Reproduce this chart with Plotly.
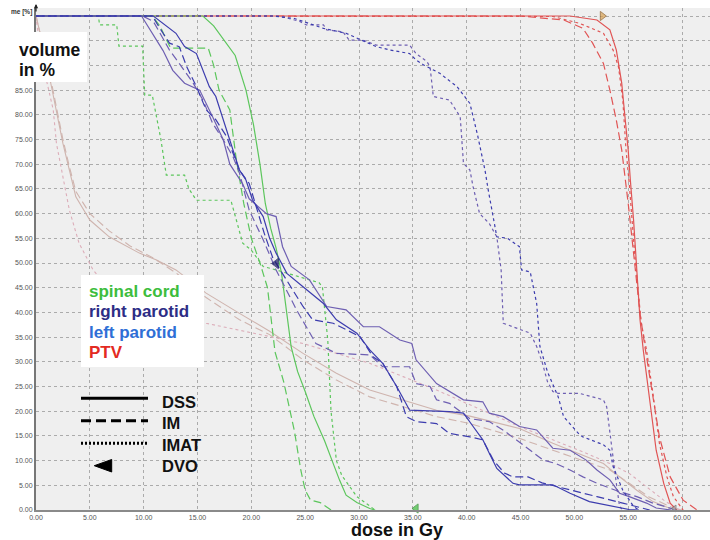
import plotly.graph_objects as go

# ---------------- data (dose in Gy, volume in %) ----------------
x_tick_vals = [0, 5, 10, 15, 20, 25, 30, 35, 40, 45, 50, 55, 60]
y_tick_vals = [0, 5, 10, 15, 20, 25, 30, 35, 40, 45, 50, 55, 60, 65, 70, 75, 80, 85, 90, 95, 100]

# spinal cord
cord_dss_dose = [0, 15.5, 16.5, 17.5, 18.5, 19.5, 20.2, 20.8, 21.3, 21.8, 22.3, 22.8, 23.3, 23.7, 24.3, 25.0, 25.8, 26.8, 27.5, 28.2, 28.8, 29.8, 31.0, 31.5]
cord_dss_vol = [100, 100, 98, 95, 92, 85, 78, 70, 62, 57, 53, 48, 40, 33, 28, 24, 19, 14, 10, 6, 3, 1.5, 0.3, 0]
cord_im_dose = [0, 10.8, 11.5, 12.2, 12.5, 16.0, 16.5, 17.0, 18.0, 18.6, 19.3, 20.0, 20.8, 21.5, 22.2, 23.0, 24.0, 24.6, 25.0, 25.5, 26.4, 27.4]
cord_im_vol = [100, 100, 98, 95, 93.5, 93.5, 90, 85, 81, 71, 62, 55, 50, 45, 32, 26, 16, 8, 4, 2, 1.5, 0]
cord_imat_dose = [0, 5.8, 5.9, 7.5, 7.7, 9.9, 10.1, 10.8, 11.6, 12.1, 13.8, 14.2, 14.9, 18.1, 19.2, 20.0, 21.1, 22.3, 26.3, 26.6, 27.1, 27.4, 27.9, 28.4, 29.8, 31.0, 31.5]
cord_imat_vol = [100, 100, 98.2, 98.2, 93.9, 93.9, 84, 84, 75, 67.8, 67.8, 65, 62.7, 62.7, 54, 52.6, 49.3, 48.6, 46, 45.2, 34.4, 20, 10, 7, 2.7, 0.7, 0]

# right parotid
rpar_dss_dose = [0, 9.8, 11.8, 12.7, 13.8, 15.2, 16.4, 17.4, 18.0, 19.2, 19.8, 21.4, 22.3, 22.9, 23.7, 25.4, 27.0, 28.8, 30.4, 31.9, 33.8, 34.9, 35.3, 37.2, 39.7, 41.5, 42.1, 43.4, 44.9, 46.5, 48.0, 49.6, 51.1, 52.1, 53.3, 54.2, 55.1, 56.7, 57.6, 59.0]
rpar_dss_vol = [100, 100, 93, 89, 86.4, 85, 79.6, 74.9, 70, 66, 63, 60, 59.4, 53.3, 49.3, 46.6, 41.2, 40.5, 37.1, 37.1, 34.4, 33.7, 30.4, 25.6, 22.3, 21.9, 19.6, 18.9, 16.9, 16.2, 12.5, 12.1, 10.1, 8.1, 6.1, 3.4, 2.7, 1.4, 0.4, 0]
rpar_im_dose = [0, 9.9, 10.9, 11.5, 12.4, 13.3, 14.6, 15.5, 16.4, 17.4, 18.3, 18.9, 19.8, 21.1, 22.3, 23.1, 24.2, 25.1, 26.0, 26.7, 27.9, 31.0, 32.2, 34.7, 35.3, 36.6, 37.2, 38.4, 39.7, 40.3, 42.1, 43.5, 45.9, 47.1, 48.3, 49.6, 50.8, 52.1, 54.2, 55.8, 57.3, 58.9, 59.5]
rpar_im_vol = [100, 100, 98.9, 96.5, 93.1, 90.4, 86.4, 83, 78.3, 74.9, 71.5, 68.2, 60.7, 54.7, 48.6, 45.2, 40.5, 37.1, 33.7, 33, 31.7, 31.4, 29, 29, 25.6, 25, 22.3, 21.6, 19.6, 18.5, 17.9, 16, 12.1, 10.1, 9.4, 8.1, 6.7, 5.4, 3.7, 2.7, 1.4, 0.3, 0]
rpar_imat_dose = [0, 22.6, 24.5, 25.1, 26.7, 27.0, 28.5, 29.1, 30.4, 31.6, 34.7, 35.3, 36.3, 36.6, 36.9, 38.4, 39.4, 39.7, 40.3, 40.6, 41.2, 42.1, 42.8, 43.2, 43.4, 44.3, 45.9, 46.5, 47.0, 47.5, 48.0, 48.5, 50.5, 52.7, 53.0, 53.9, 54.2, 54.5]
rpar_imat_vol = [100, 100, 98.9, 98.2, 98.2, 97.2, 96.8, 95.1, 95.1, 94.1, 94.1, 92.4, 90.8, 89.7, 83.7, 83, 79.6, 70.2, 68.8, 65.4, 60, 58, 55.3, 48.6, 37.8, 37.1, 35.8, 33.1, 30, 26, 24, 23.6, 23.6, 22.3, 20.9, 5.4, 0.7, 0]

# left parotid
lpar_dss_dose = [0, 10.9, 13.0, 13.8, 14.9, 15.4, 16.1, 16.7, 17.7, 18.3, 18.9, 19.5, 20.1, 21.1, 21.7, 22.3, 23.3, 24.8, 26.7, 27.9, 29.8, 31.0, 32.2, 33.5, 34.7, 38.4, 39.7, 40.6, 41.5, 42.1, 42.8, 44.3, 44.9, 48.0, 49.6, 51.4, 53.9, 55.1, 56.0]
lpar_dss_vol = [100, 100, 96.5, 93.8, 92.4, 89.7, 85.7, 83.7, 76.9, 72.9, 68.8, 66.8, 62.8, 59.4, 55, 52, 47.9, 45.2, 41.8, 38.5, 35.8, 32.4, 29.7, 25, 20.2, 19.9, 19.6, 16.9, 14.2, 11.5, 8.4, 5.4, 5.1, 5.1, 3.4, 1.7, 0.7, 0.1, 0]
lpar_im_dose = [0, 10.8, 11.8, 12.4, 13.3, 14.0, 14.9, 15.8, 16.7, 17.7, 18.3, 18.9, 19.8, 20.5, 21.2, 22.0, 22.9, 24.8, 25.7, 27.6, 30.1, 31.3, 32.2, 33.5, 34.4, 35.3, 37.2, 38.4, 40.3, 41.5, 42.5, 43.5, 44.3, 45.7, 47.0, 49.6, 52.1, 54.5, 56.4, 57.0]
lpar_im_vol = [100, 100, 96.5, 94.5, 93.8, 89.7, 85.7, 81, 79, 75.6, 72.2, 68.8, 66.1, 61, 56, 51, 47.9, 41.2, 38.5, 37.8, 35.1, 31, 29.7, 25, 18.9, 17.9, 17.5, 15.5, 14.8, 14.2, 10, 7.5, 6.7, 6.7, 5.5, 4, 2.7, 1.4, 0.4, 0]
lpar_imat_dose = [0, 22.0, 24.0, 26.7, 28.8, 29.8, 31.6, 32.9, 34.7, 35.3, 36.0, 37.5, 39.1, 40.3, 41.0, 41.7, 42.0, 42.8, 43.8, 44.9, 45.1, 45.9, 46.5, 46.8, 47.5, 48.5, 49.0, 50.5, 50.8, 52.7, 53.3, 53.6, 54.5, 55.5, 56.0]
lpar_imat_vol = [100, 100, 99.5, 97.5, 96.5, 95.5, 93.8, 93.1, 92.4, 91.1, 90.1, 88.4, 85.7, 82.3, 76, 68.8, 64.8, 55.3, 55, 53.3, 48.6, 48.2, 41.8, 33.1, 28, 22.9, 18.9, 15.2, 14.8, 13.2, 12.1, 8.8, 4, 0.7, 0]

# PTV
ptv_dss_dose = [0, 49.6, 52.1, 53.3, 53.9, 54.4, 54.7, 55.0, 55.2, 55.5, 55.8, 56.1, 56.4, 57.0, 57.6, 58.3, 58.9, 59.5]
ptv_dss_vol = [100, 100, 99.2, 97.2, 93.1, 86.4, 79.6, 72.9, 66.8, 58.7, 48.6, 38.5, 32.4, 22.3, 12.1, 5.4, 1.4, 0]
ptv_im_dose = [0, 44.9, 49.0, 50.8, 51.7, 52.7, 53.3, 53.9, 54.4, 54.7, 55.0, 55.5, 56.1, 56.6, 57.2, 57.9, 58.9, 60.1, 61.4]
ptv_im_vol = [100, 100, 99.2, 97.5, 94.5, 90.4, 85, 78.9, 72.9, 66.8, 62.1, 52, 39.8, 32.4, 24.3, 14.8, 6.7, 2, 0]
ptv_imat_dose = [0, 48.0, 50.5, 52.7, 53.6, 54.1, 54.5, 54.8, 55.1, 55.6, 56.2, 56.7, 57.3, 57.9, 58.6, 59.2, 60.1]
ptv_imat_vol = [100, 99.9, 98.5, 96.5, 93.1, 89.7, 83, 72.9, 66, 52, 38, 32.4, 23.6, 13.5, 6.7, 2.7, 0]

# other tissue (unlabelled light curves)
tis_dss_dose = [0, 0.6, 1.25, 1.9, 2.5, 3.1, 3.7, 5.0, 6.8, 9.6, 11.2, 13.0, 15.8, 18.9, 21.7, 24.8, 27.9, 31.0, 34.1, 37.2, 40.3, 44.9, 48.0, 51.1, 52.7, 54.2, 55.8, 57.3, 58.9, 60.1]
tis_dss_vol = [100, 94.5, 87.7, 81, 74.2, 68.8, 63.4, 58.7, 55.3, 52, 50.6, 48.6, 43.9, 39.8, 36.2, 31.7, 27.7, 24.3, 22.3, 20.2, 19, 16.5, 13.5, 10.8, 9.4, 6.7, 4, 1.7, 0.3, 0]
tis_im_dose = [0, 0.6, 1.3, 1.9, 2.5, 3.1, 3.7, 5.0, 6.8, 8.7, 10.9, 13.0, 15.8, 18.9, 21.7, 24.8, 27.9, 31.0, 34.1, 37.2, 40.3, 44.9, 48.0, 51.1, 53.3, 55.1, 56.9, 58.9, 59.5]
tis_im_vol = [100, 94.5, 88, 81.5, 75, 69.5, 64.5, 60, 56.5, 53.5, 51, 48, 43, 38.5, 35.5, 30.4, 26.3, 22.9, 20.9, 18.9, 17.5, 14.5, 12.1, 9.8, 8.1, 5.4, 2.7, 0.7, 0]
tis_imat_dose = [0, 0.3, 0.9, 1.6, 1.9, 2.5, 3.1, 4.0, 5.3, 6.5, 8.5, 11.0, 13.0, 15.8, 18.9, 21.7, 24.8, 27.9, 31.0, 34.1, 37.2, 40.3, 44.9, 48.0, 51.1, 53.3, 55.1, 56.7, 58.3, 59.5, 60.0]
tis_imat_vol = [100, 94.5, 87.7, 81, 74.2, 67.5, 60.7, 54, 48.6, 45.5, 42.5, 40.5, 39.3, 37.8, 36.4, 35.1, 33.7, 31.7, 29.7, 27, 24.3, 21.3, 16.9, 14.2, 11.5, 9.4, 7.4, 4.7, 2, 0.3, 0]

# DVO markers
dvo_dose = [22.3, 35.3, 52.6, 59.3]
dvo_vol = [49.9, 0.3, 100, 0.3]

legend_organs = ["spinal cord", "right parotid", "left parotid", "PTV"]
legend_styles = ["DSS", "IM", "IMAT", "DVO"]

# ---------------- styling ----------------
C_CORD = "#5cc65c"
C_RPAR = "#6e5fb2"
C_LPAR = "#3c3cae"
C_PTV = "#e05454"
C_TIS = "#cfb4ae"
C_TIS_DOT = "#dcadb9"
DASH_IM = "8px,4px"

L, T, W, H = 36, 8, 674, 502
FIG_W, FIG_H = 710, 540


def px(x):
    return (x - L) / W


def py(y):
    return (T + H - y) / H


fig = go.Figure()


def add(d, v, color, dash, width=1.2):
    fig.add_trace(go.Scatter(x=d, y=v, mode="lines",
                             line=dict(color=color, width=width, dash=dash, shape="linear"),
                             showlegend=False, hoverinfo="skip"))


add(tis_dss_dose, tis_dss_vol, C_TIS, "solid", 1.1)
add(tis_im_dose, tis_im_vol, C_TIS, DASH_IM, 1.1)
add(tis_imat_dose, tis_imat_vol, C_TIS_DOT, "dot", 1.1)

add(ptv_im_dose, ptv_im_vol, C_PTV, DASH_IM)
add(ptv_imat_dose, ptv_imat_vol, C_PTV, "dot")
add(ptv_dss_dose, ptv_dss_vol, C_PTV, "solid")

add(cord_dss_dose, cord_dss_vol, C_CORD, "solid")
add(cord_im_dose, cord_im_vol, C_CORD, DASH_IM)
add(cord_imat_dose, cord_imat_vol, C_CORD, "dot")

add(rpar_dss_dose, rpar_dss_vol, C_RPAR, "solid")
add(rpar_im_dose, rpar_im_vol, C_RPAR, DASH_IM)
add(rpar_imat_dose, rpar_imat_vol, C_RPAR, "dot")
add(lpar_dss_dose, lpar_dss_vol, C_LPAR, "solid")
add(lpar_im_dose, lpar_im_vol, C_LPAR, DASH_IM)
add(lpar_imat_dose, lpar_imat_vol, C_LPAR, "dot")

fig.add_trace(go.Scatter(
    x=dvo_dose, y=dvo_vol, mode="markers", cliponaxis=False,
    marker=dict(symbol=["triangle-left", "triangle-left", "triangle-right", "triangle-left"],
                size=[9, 8, 8, 6],
                color=["#1c1c66", "#3cbf3c", "#d8a050", "#b0b0b0"],
                line=dict(color=["#1c1c66", "#2a8a2a", "#8a5a20", "#666666"], width=1)),
    showlegend=False, hoverinfo="skip"))

FONT = "Liberation Sans, Arial, sans-serif"
x_tick_text = ["%.2f" % v for v in x_tick_vals]
y_tick_text = [("%.2f" % v) if v <= 85 else "" for v in y_tick_vals]

fig.update_layout(
    width=FIG_W, height=FIG_H,
    margin=dict(l=L, r=FIG_W - L - W, t=T, b=FIG_H - T - H, pad=0),
    paper_bgcolor="white", plot_bgcolor="#efefef",
    showlegend=False,
    font=dict(family=FONT),
    xaxis=dict(range=[0, W / 10.767], tickvals=x_tick_vals, ticktext=x_tick_text,
               showgrid=True, gridcolor="#ababab", griddash="dot", gridwidth=1,
               showline=True, linecolor="#8a8a8a", linewidth=2,
               zeroline=False, ticks="", tickfont=dict(size=7, color="#555555")),
    yaxis=dict(range=[0, H / 4.94], tickvals=y_tick_vals, ticktext=y_tick_text,
               showgrid=True, gridcolor="#ababab", griddash="dot", gridwidth=1,
               showline=True, linecolor="#777777", linewidth=2,
               zeroline=False, ticks="", tickfont=dict(size=7, color="#555555")),
)

shapes = []
# white boxes
shapes.append(dict(type="rect", xref="paper", yref="paper", layer="above",
                   x0=px(0), x1=px(87), y0=py(82), y1=py(32),
                   fillcolor="white", line=dict(width=0)))
shapes.append(dict(type="rect", xref="paper", yref="paper", layer="above",
                   x0=px(81), x1=px(204), y0=py(367), y1=py(275),
                   fillcolor="white", line=dict(width=0)))
# line-style legend
shapes.append(dict(type="line", xref="paper", yref="paper", layer="above",
                   x0=px(81), x1=px(148), y0=py(398.3), y1=py(398.3),
                   line=dict(color="black", width=3)))
shapes.append(dict(type="line", xref="paper", yref="paper", layer="above",
                   x0=px(81), x1=px(148), y0=py(420.7), y1=py(420.7),
                   line=dict(color="black", width=3, dash="10px,5px")))
shapes.append(dict(type="line", xref="paper", yref="paper", layer="above",
                   x0=px(81), x1=px(148), y0=py(443.3), y1=py(443.3),
                   line=dict(color="black", width=3, dash="2px,2px")))
tri = "M %f %f L %f %f L %f %f Z" % (px(94.3), py(465.7), px(111.7), py(459.5), px(111.7), py(472))
shapes.append(dict(type="path", xref="paper", yref="paper", layer="above", path=tri,
                   fillcolor="black", line=dict(color="black", width=1)))
fig.update_layout(shapes=shapes)

ann = []


def text(s, x, y, size, color="black", bold=True, xanchor="left"):
    ann.append(dict(text=("<b>%s</b>" % s) if bold else s, x=px(x), y=py(y),
                    xref="paper", yref="paper", xanchor=xanchor, yanchor="middle",
                    showarrow=False, font=dict(size=size, color=color, family=FONT)))


text("volume", 17, 50, 17.5, "#111111")
text("in %", 17, 70, 17.5, "#111111")

organ_colors = ["#3dbd3d", "#2d2d86", "#2f6fd6", "#e32a22"]
organ_y = [291, 311.5, 332, 352.5]
for s, c, y in zip(legend_organs, organ_colors, organ_y):
    text(s, 87, y, 17, c)

style_y = [401.5, 423, 445, 465.5]
for s, y in zip(legend_styles, style_y):
    text(s, 160, y, 16.5, "#111111")

text("dose in Gy", 397, 529.5, 18, "#111111", xanchor="center")
text("me [%]", 34, 12, 6.5, "#333333", xanchor="right")

# y-axis arrow
ann.append(dict(x=px(36), y=py(4), xref="paper", yref="paper", ax=0, ay=9,
                showarrow=True, arrowhead=2, arrowsize=0.7, arrowwidth=1.2,
                arrowcolor="#222222", text=""))
fig.update_layout(annotations=ann)

fig.write_html("out.html", config={"displayModeBar": False},
               post_script="document.body.style.margin='0px';document.body.style.overflow='hidden';")
